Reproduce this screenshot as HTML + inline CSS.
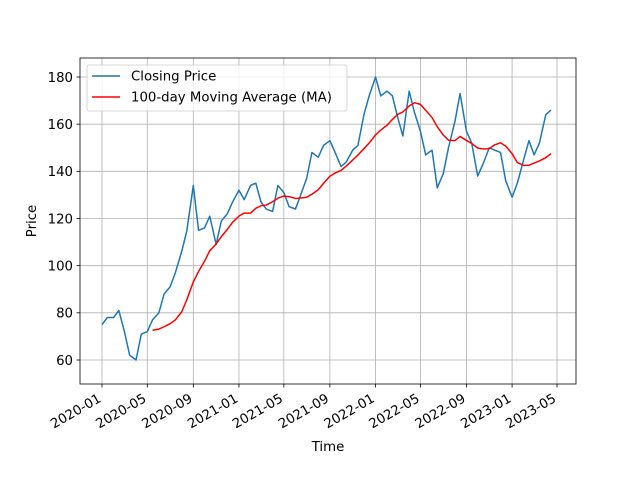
<!DOCTYPE html>
<html><head><meta charset="utf-8"><style>
body{margin:0;background:#fff}
svg{font-family:"DejaVu Sans","Liberation Sans",sans-serif}
</style></head><body>
<svg id="chart" width="640" height="480">
<rect width="640" height="480" fill="#fff"/>
<g id="grid"></g><g id="series"></g><g id="axes"></g>
</svg>
<script>
const dates=["2020-01-01","2020-01-15","2020-02-01","2020-02-15","2020-03-01","2020-03-15","2020-04-01","2020-04-15","2020-05-01","2020-05-15","2020-06-01","2020-06-15","2020-07-01","2020-07-15","2020-08-01","2020-08-15","2020-09-01","2020-09-15","2020-10-01","2020-10-15","2020-11-01","2020-11-15","2020-12-01","2020-12-15",
"2021-01-01","2021-01-15","2021-02-01","2021-02-15","2021-03-01","2021-03-15","2021-04-01","2021-04-15","2021-05-01","2021-05-15","2021-06-01","2021-06-15","2021-07-01","2021-07-15","2021-08-01","2021-08-15","2021-09-01","2021-09-15","2021-10-01","2021-10-15","2021-11-01","2021-11-15","2021-12-01","2021-12-15",
"2022-01-01","2022-01-15","2022-02-01","2022-02-15","2022-03-01","2022-03-15","2022-04-01","2022-04-15","2022-05-01","2022-05-15","2022-06-01","2022-06-15","2022-07-01","2022-07-15","2022-08-01","2022-08-15","2022-09-01","2022-09-15","2022-10-01","2022-10-15","2022-11-01","2022-11-15","2022-12-01","2022-12-15",
"2023-01-01","2023-01-15","2023-02-01","2023-02-15","2023-03-01","2023-03-15","2023-04-01","2023-04-15"];
const closes=[75,78,78,81,72,62,60,71,72,77,80,88,91,97,106,115,134,115,116,121,109,119,122,127,
132,128,134,135,127,124,123,134,131,125,124,130,137,148,146,151,153,148,142,144,149,151,164,172,
180,172,174,172,163,155,174,165,157,147,149,133,139,150,161,173,157,152,138,143,150,149,148,136,
129,135,145,153,147,152,164,166];
const maWindow=10;
const xTicks=["2020-01","2020-05","2020-09","2021-01","2021-05","2021-09","2022-01","2022-05","2022-09","2023-01","2023-05"];
const yTicks=[60,80,100,120,140,160,180];

const NS="http://www.w3.org/2000/svg";
const L=80,R=576,T=58,B=384;
const t0=Date.parse("2020-01-01"),t1=Date.parse("2023-05-01");
const X=d=>102+(Date.parse(d.length==7?d+"-01":d)-t0)/(t1-t0)*455;
const Y=v=>360-(v-60)*(283/120);
function mk(tag,attrs,parent){const e=document.createElementNS(NS,tag);for(const k in attrs)e.setAttribute(k,attrs[k]);parent.appendChild(e);return e;}
const grid=document.getElementById('grid'),series=document.getElementById('series'),axes=document.getElementById('axes');
xTicks.forEach(t=>{const x=X(t);
 const g=mk('line',{x1:x,x2:x,y1:T,y2:B,stroke:'#b0b0b0','stroke-width':0.8},grid);
 
 mk('line',{x1:x,x2:x,y1:B,y2:B+3.5,stroke:'#000','stroke-width':0.8},axes);
 const tx=mk('text',{x:x,y:B+17,'font-size':13.3,'text-anchor':'end',transform:`rotate(-30 ${x} ${B+17})`},axes);
 tx.textContent=t;
 
});
yTicks.forEach(v=>{const y=Y(v);
 const g=mk('line',{x1:L,x2:R,y1:y,y2:y,stroke:'#b0b0b0','stroke-width':0.8},grid);
 
 mk('line',{x1:L-3.5,x2:L,y1:y,y2:y,stroke:'#000','stroke-width':0.8},axes);
 const tx=mk('text',{x:L-7,y:y+4.8,'font-size':13.3,'text-anchor':'end'},axes);
 tx.textContent=v;
 
});
const cp=mk('polyline',{points:dates.map((d,i)=>X(d)+','+Y(closes[i])).join(' '),fill:'none',stroke:'#1f77b4','stroke-width':1.5,'stroke-linejoin':'round'},series);

const maPts=[];
for(let i=maWindow-1;i<closes.length;i++){let s=0;for(let j=i-maWindow+1;j<=i;j++)s+=closes[j];maPts.push(X(dates[i])+','+Y(s/maWindow));}
const ma=mk('polyline',{points:maPts.join(' '),fill:'none',stroke:'#ff0000','stroke-width':1.5,'stroke-linejoin':'round'},series);

const fr=mk('rect',{x:L,y:T,width:R-L,height:B-T,fill:'none',stroke:'#000','stroke-width':0.8},axes);

const lg=mk('g',{},axes);

mk('rect',{x:87,y:65,width:260,height:46,rx:2,fill:'#fff','fill-opacity':0.8,stroke:'#ccc','stroke-width':0.8},lg);
mk('line',{x1:92,x2:120,y1:76,y2:76,stroke:'#1f77b4','stroke-width':1.5},lg);
mk('line',{x1:92,x2:120,y1:97,y2:97,stroke:'#ff0000','stroke-width':1.5},lg);
const l1=mk('text',{x:131,y:80.5,'font-size':13.3},lg);l1.textContent='Closing Price';

const l2=mk('text',{x:131,y:101.5,'font-size':13.3},lg);l2.textContent='100-day Moving Average (MA)';

const xt=mk('text',{x:328,y:451,'font-size':13.3,'text-anchor':'middle'},axes);xt.textContent='Time';

const yt=mk('text',{x:36,y:221,'font-size':13.3,'text-anchor':'middle',transform:'rotate(-90 36 221)'},axes);yt.textContent='Price';

</script>
</body></html>
